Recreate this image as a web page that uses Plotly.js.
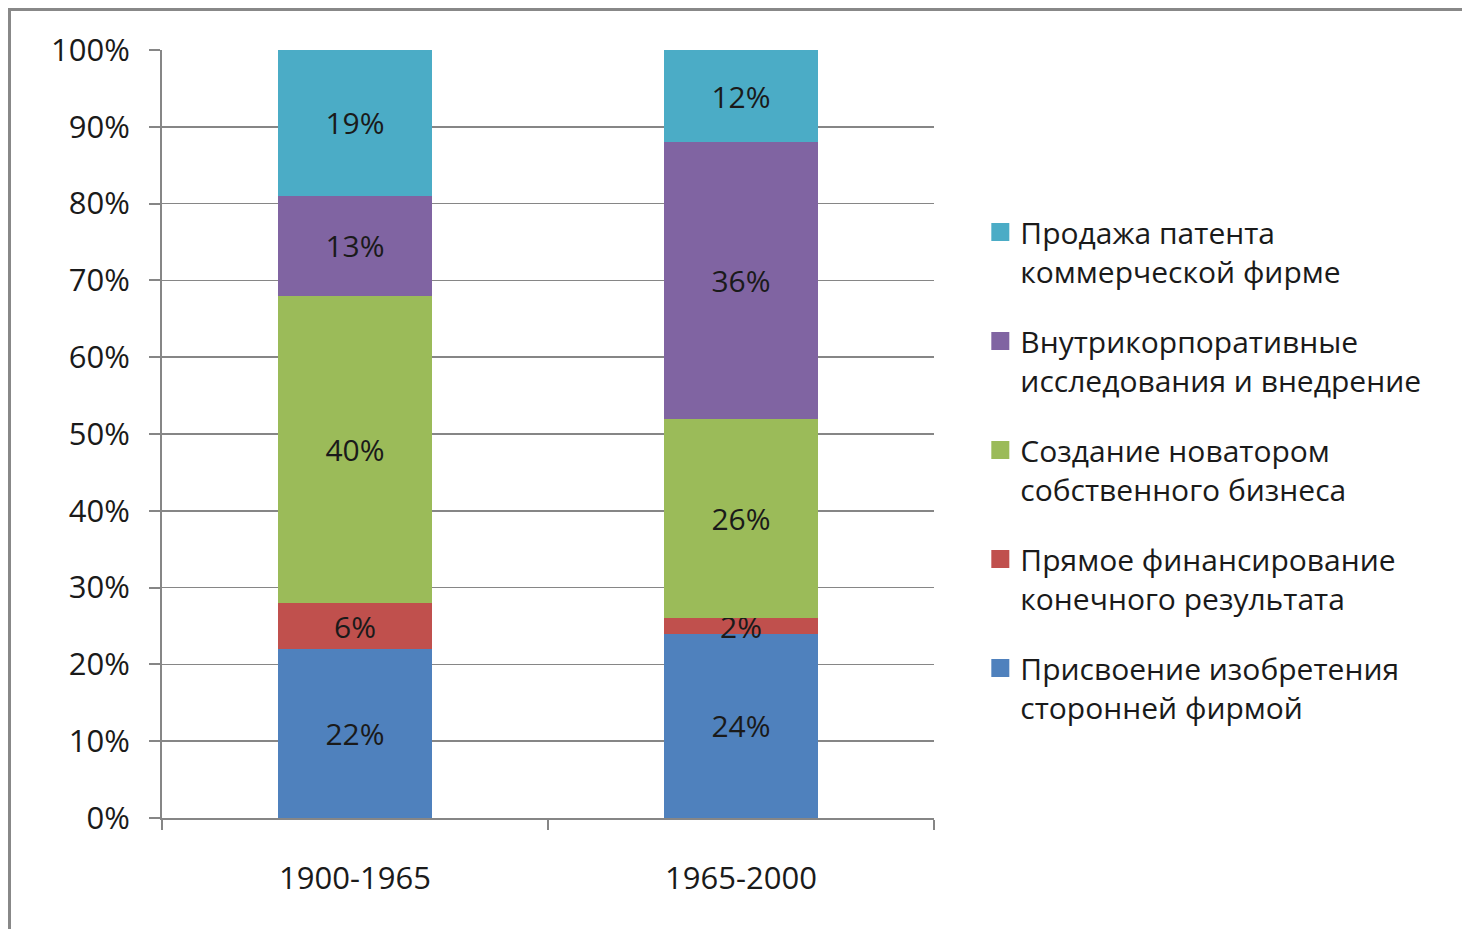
<!DOCTYPE html>
<html>
<head>
<meta charset="utf-8">
<script src="https://cdn.plot.ly/plotly-3.0.1.min.js"></script>
<style>
html,body{margin:0;padding:0;background:#fff;}
#frame{position:absolute;left:8px;top:8px;width:1462px;height:929px;border-left:3px solid #888;border-top:3px solid #888;box-sizing:border-box;}
#chart{position:absolute;left:0;top:0;width:1462px;height:929px;}
</style>
</head>
<body>
<div id="frame"></div>
<div id="chart"></div>
<script>
const categories = ["1900-1965", "1965-2000"];
const seriesNames = [
  "Присвоение изобретения<br>сторонней фирмой",
  "Прямое финансирование<br>конечного результата",
  "Создание новатором<br>собственного бизнеса",
  "Внутрикорпоративные<br>исследования и внедрение",
  "Продажа патента<br>коммерческой фирме"
];
const appropriation = [22, 24];
const directFunding = [6, 2];
const ownBusiness = [40, 26];
const inHouse = [13, 36];
const patentSale = [19, 12];
const colors = ["#4F81BD", "#C0504D", "#9BBB59", "#8064A2", "#4BACC6"];
const yTicks = [0,10,20,30,40,50,60,70,80,90,100];

const seriesValues = [appropriation, directFunding, ownBusiness, inHouse, patentSale];
const font = "Open Sans, sans-serif";

const traces = seriesValues.map((vals, i) => ({
  type: "bar",
  x: categories,
  y: vals,
  name: seriesNames[i],
  legendgroup: "g" + i,
  legendrank: 100 - i,
  marker: {color: colors[i], line: {width: 0}},
  text: vals.map(v => v + "%"),
  textposition: "inside",
  insidetextanchor: "middle",
  textangle: 0,
  constraintext: "none",
  textfont: {family: font, size: 30, color: "#1a1a1a"},
  hoverinfo: "skip"
}));

const layout = {
  width: 1462, height: 929,
  paper_bgcolor: "rgba(0,0,0,0)",
  plot_bgcolor: "rgba(0,0,0,0)",
  barmode: "stack",
  bargap: 0.6,
  margin: {l: 162, r: 528, t: 50, b: 111},
  uniformtext: {mode: "show", minsize: 30},
  font: {family: font, size: 30, color: "#1a1a1a"},
  xaxis: {
    type: "category",
    showline: true, linecolor: "#868686", linewidth: 2,
    ticks: "outside", tickson: "boundaries", ticklen: 10, tickcolor: "#868686", tickwidth: 2,
    ticklabelstandoff: 32,
    tickfont: {family: font, size: 31, color: "#1a1a1a"},
    showgrid: false, zeroline: false
  },
  yaxis: {
    range: [0, 100],
    tickvals: yTicks,
    ticktext: yTicks.map(v => v + "%"),
    showline: true, linecolor: "#868686", linewidth: 2,
    ticks: "outside", ticklen: 11, tickcolor: "#868686", tickwidth: 2,
    ticklabelstandoff: 13,
    showgrid: true, gridcolor: "#868686", gridwidth: 1.5,
    zeroline: false,
    tickfont: {family: font, size: 31, color: "#1a1a1a"}
  },
  legend: {
    x: 1.06, xanchor: "left",
    y: 0.797, yanchor: "top",
    traceorder: "grouped",
    tracegroupgap: 28,
    valign: "top",
    font: {family: font, size: 30, color: "#1a1a1a"},
    bgcolor: "rgba(0,0,0,0)"
  },
  showlegend: true
};

Plotly.newPlot("chart", traces, layout, {displayModeBar: false, staticPlot: true}).then(() => {
  document.querySelectorAll(".legend .legendpoints path").forEach(p => {
    p.setAttribute("d", "M9,9H-9V-9H9Z");
  });
});
</script>
</body>
</html>
